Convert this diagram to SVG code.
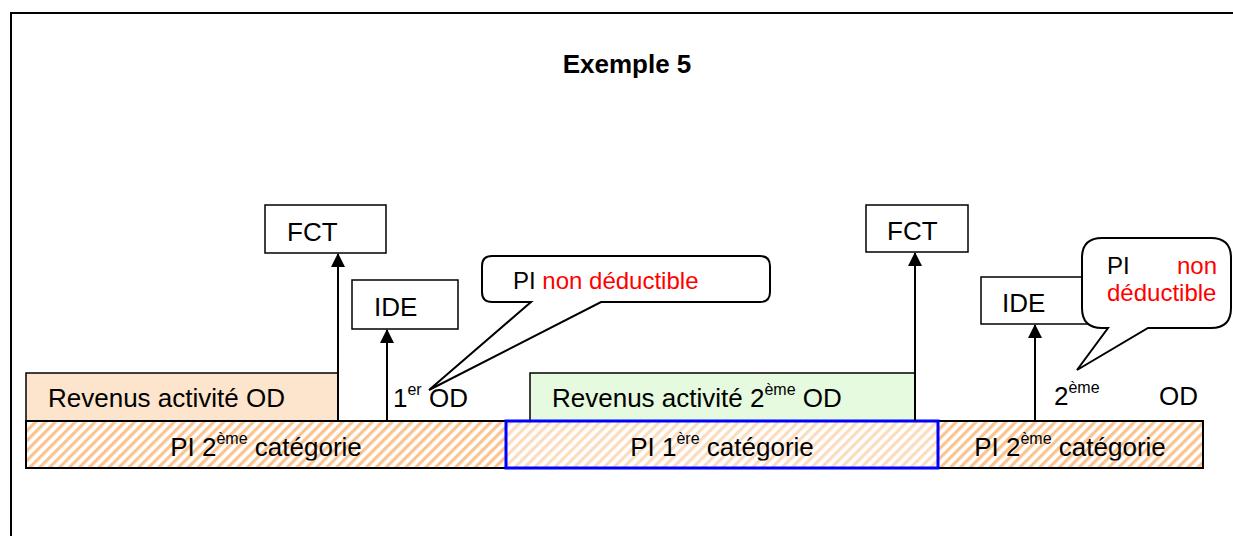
<svg xmlns="http://www.w3.org/2000/svg" width="1233" height="536" viewBox="0 0 1233 536">
<style>
text{font-family:"Liberation Sans",Arial,sans-serif;fill:#000}
.t{font-size:26px}
.c{font-size:24px}
.sup{font-size:16px}
.red{fill:#FF0000}
.box{fill:#fff;stroke:#000;stroke-width:1.5}
.bar{stroke:#000;stroke-width:2}
.conn{stroke:#000;stroke-width:2;fill:none}
.callout{fill:#fff;stroke:#000;stroke-width:2}
</style>
<defs>
<pattern id="hatch" patternUnits="userSpaceOnUse" width="7" height="7" patternTransform="rotate(45)">
<rect width="7" height="7" fill="#fff"/>
<rect width="3.2" height="7" fill="#FAC38F"/>
</pattern>
<pattern id="hatchLight" patternUnits="userSpaceOnUse" width="7" height="7" patternTransform="rotate(45)">
<rect width="7" height="7" fill="#fff"/>
<rect width="3.2" height="7" fill="#FCDCBE"/>
</pattern>
<marker id="arr" markerWidth="14" markerHeight="14" refX="13" refY="7" orient="auto" markerUnits="userSpaceOnUse">
<path d="M0,0 L14,7 L0,14 Z" fill="#000"/>
</marker>
<clipPath id="clipBars"><rect x="0" y="421" width="1233" height="39.5"/></clipPath>
</defs>
<rect x="11" y="13" width="1240" height="540" fill="none" stroke="#000" stroke-width="2"/>
<text x="627" y="73" text-anchor="middle" style="font-size:26px;font-weight:bold">Exemple 5</text>

<g id="revenus-od">
<rect x="26" y="373" width="312" height="48" fill="#FDE4CC" stroke="#000" stroke-width="1.5"/>
<text class="t" x="48" y="407">Revenus activité OD</text>
</g>
<g id="revenus-2eme-od">
<rect x="530" y="373" width="385" height="48" fill="#E5FADE" stroke="#000" stroke-width="1.5"/>
<text class="t" x="552" y="407">Revenus activité 2<tspan class="sup" dy="-12">ème</tspan><tspan dy="12"> OD</tspan></text>
</g>

<g id="pi2-a">
<rect class="bar" x="26" y="421" width="480" height="47" fill="url(#hatch)"/>
<text class="t" x="266" y="456" text-anchor="middle" clip-path="url(#clipBars)">PI 2<tspan class="sup" dy="-12">ème</tspan><tspan dy="12"> catégorie</tspan></text>
</g>
<g id="pi2-b">
<rect class="bar" x="938" y="421" width="265" height="47" fill="url(#hatch)"/>
<text class="t" x="1070" y="456" text-anchor="middle" clip-path="url(#clipBars)">PI 2<tspan class="sup" dy="-12">ème</tspan><tspan dy="12"> catégorie</tspan></text>
</g>
<g id="pi1">
<rect x="506" y="421" width="432" height="47" fill="url(#hatchLight)" stroke="#0000FF" stroke-width="3"/>
<text class="t" x="722" y="456" text-anchor="middle" clip-path="url(#clipBars)">PI 1<tspan class="sup" dy="-12">ère</tspan><tspan dy="12"> catégorie</tspan></text>
</g>

<g id="fct-1">
<rect class="box" x="265" y="205" width="121" height="48"/>
<text class="t" x="287" y="241">FCT</text>
</g>
<g id="ide-1">
<rect class="box" x="352" y="280" width="106" height="49"/>
<text class="t" x="374" y="316">IDE</text>
</g>
<g id="fct-2">
<rect class="box" x="866" y="205" width="102" height="47"/>
<text class="t" x="887" y="240">FCT</text>
</g>
<g id="ide-2">
<rect class="box" x="981" y="277" width="110" height="47"/>
<text class="t" x="1002" y="312">IDE</text>
</g>

<g id="connectors">
<line class="conn" x1="338" y1="421" x2="338" y2="254" marker-end="url(#arr)"/>
<line class="conn" x1="387" y1="421" x2="387" y2="330" marker-end="url(#arr)"/>
<line class="conn" x1="915" y1="421" x2="915" y2="253" marker-end="url(#arr)"/>
<line class="conn" x1="1035" y1="421" x2="1035" y2="325" marker-end="url(#arr)"/>
</g>

<g id="label-1er-od">
<text class="t" x="393" y="407">1<tspan class="sup" dy="-12">er</tspan><tspan dy="12"> OD</tspan></text>
</g>
<g id="label-2eme-od">
<text class="t" x="1054" y="405">2<tspan class="sup" dy="-12">ème</tspan></text>
<text class="t" x="1159" y="405">OD</text>
</g>

<g id="callout-1">
<path class="callout" d="M492,256 H760 Q770,256 770,266 V292 Q770,302 760,302 H601 L429,390 L531,302 H492 Q482,302 482,292 V266 Q482,256 492,256 Z"/>
<text class="c" x="513" y="289">PI <tspan class="red">non déductible</tspan></text>
</g>
<g id="callout-2">
<path class="callout" d="M1102,238 H1211 Q1231,238 1231,258 V308 Q1231,328 1211,328 H1148 L1077,370 L1108,328 H1102 Q1082,328 1082,308 V258 Q1082,238 1102,238 Z"/>
<text class="c" x="1107" y="274">PI</text>
<text class="c red" x="1177" y="274">non</text>
<text class="c red" x="1107" y="301">déductible</text>
</g>
</svg>
